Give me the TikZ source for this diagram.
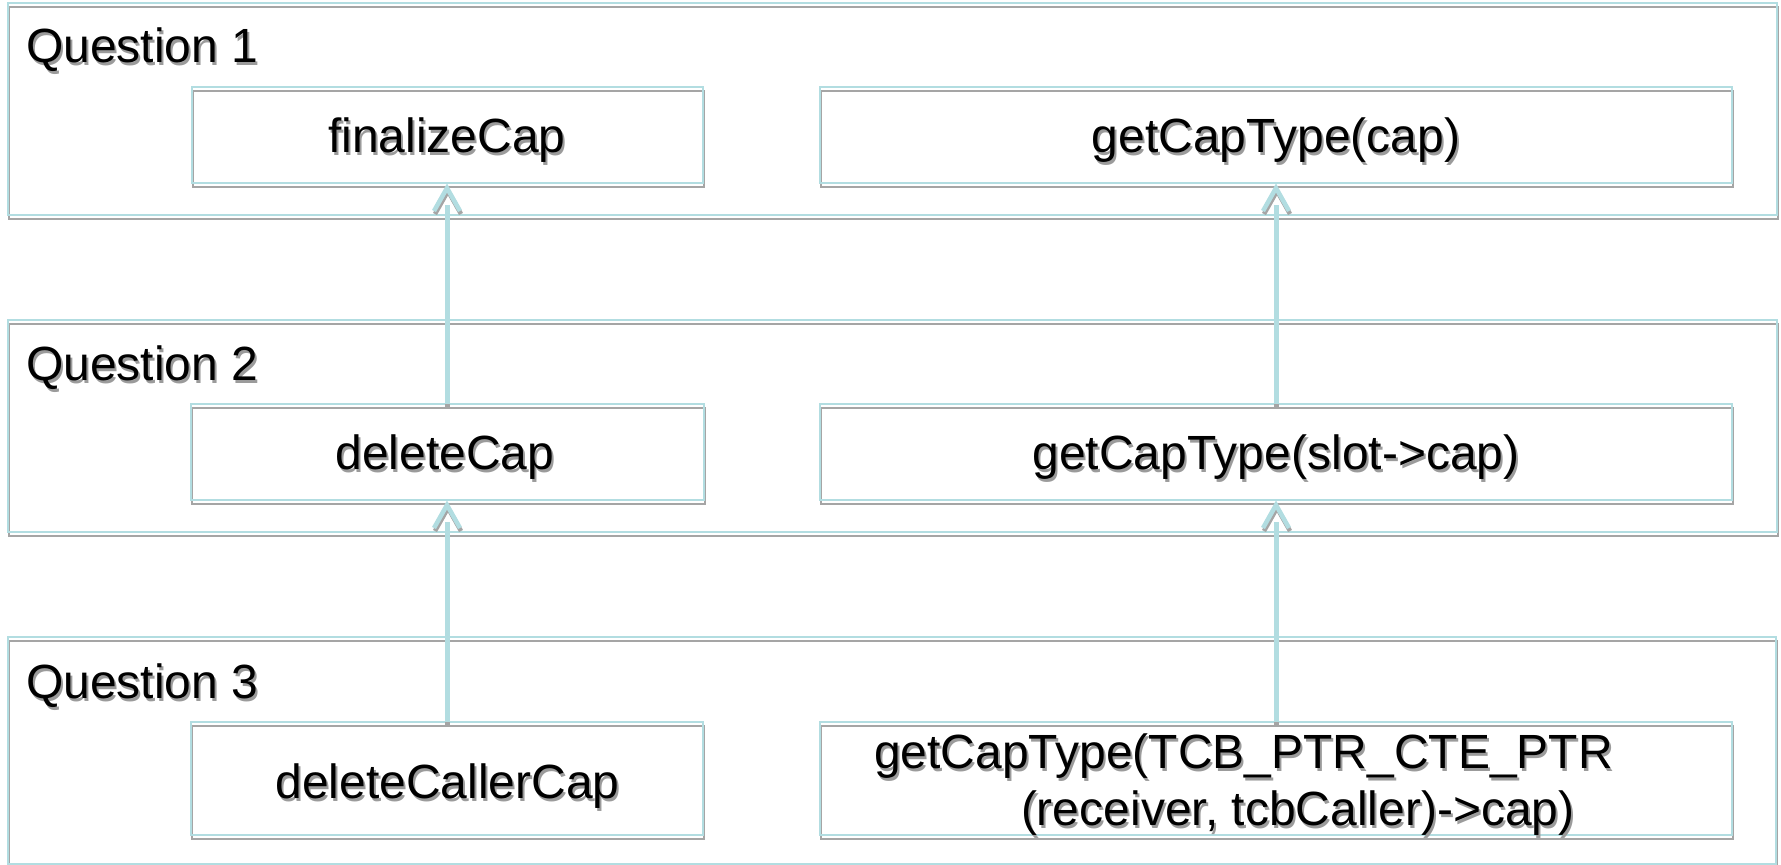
\documentclass[tikz,border=0pt]{standalone}
\usepackage{fontspec}
\setmainfont{Liberation Sans}
\definecolor{cy}{RGB}{178,221,225}
\definecolor{shd}{RGB}{165,165,165}
\definecolor{tshd}{RGB}{155,155,155}
\tikzset{
  boxline/.style={draw=cy, line width=2pt, inner sep=0pt, outer sep=0pt,
    preaction={draw=shd, line width=2pt, transform canvas={shift={(1pt,-4pt)}}}},
  txt/.style={inner sep=0pt, outer sep=0pt, text=black},
  txtsh/.style={inner sep=0pt, outer sep=0pt, text=tshd},
  shaft/.style={draw=cy, line width=5pt,
    preaction={draw=shd, line width=5pt, transform canvas={shift={(0pt,-4pt)}}}},
  chev/.style={draw=cy, line width=4.5pt, miter limit=10,
    preaction={draw=shd, line width=4.5pt, transform canvas={shift={(1pt,-3pt)}}}},
}
\newcommand\shtext[5]{%
  \node[txtsh, anchor=#3, font=\fontsize{#4}{#4}\selectfont] (#1s) at ([shift={(2pt,-3pt)}]#2) {#5};
  \node[txt, anchor=#3, font=\fontsize{#4}{#4}\selectfont] (#1) at (#2) {#5};}
\begin{document}
\begin{tikzpicture}[x=1pt,y=-1pt]
\useasboundingbox (0,0) rectangle (1781,865);
% frames
\node[boxline, minimum width=1769pt, minimum height=212pt] (f1) at (892.5,109) {};
\node[boxline, minimum width=1769pt, minimum height=212pt] (f2) at (892.5,426) {};
\node[boxline, minimum width=1768pt, minimum height=227pt] (f3) at (892,750.5) {};
% inner boxes
\node[boxline, minimum width=511pt, minimum height=96pt] (b11) at (447,135) {};
\node[boxline, minimum width=912pt, minimum height=96pt] (b12) at (1276,135) {};
\node[boxline, minimum width=513pt, minimum height=96pt] (b21) at (447,452) {};
\node[boxline, minimum width=912pt, minimum height=96pt] (b22) at (1276,452) {};
\node[boxline, minimum width=512pt, minimum height=113pt] (b31) at (447,778.5) {};
\node[boxline, minimum width=912pt, minimum height=113pt] (b32) at (1276,778.5) {};
% texts
\shtext{q1}{26,62}{base west}{48}{Question 1}
\shtext{q2}{26,380}{base west}{48}{Question 2}
\shtext{q3}{26,698}{base west}{48}{Question 3}
\shtext{t11}{447,152}{base}{48}{finalizeCap}
\shtext{t12}{1276,152}{base}{48}{getCapType(cap)}
\shtext{t21}{445,469}{base}{48}{deleteCap}
\shtext{t22}{1276,469}{base}{48}{getCapType(slot->cap)}
\shtext{t31}{447.5,798}{base}{48}{deleteCallerCap}
\shtext{t32a}{874,768}{base west}{48}{getCapType(TCB\_PTR\_CTE\_PTR}
\shtext{t32b}{1021,825}{base west}{48}{(receiver, tcbCaller)->cap)}
% connectors
\draw[shaft] (b21.north) -- ([yshift=-22pt]b11.south);
\draw[chev] ([shift={(-13pt,-28pt)}]b11.south) -- ([yshift=-5pt]b11.south) -- ([shift={(13pt,-28pt)}]b11.south);
\draw[shaft] (b31.north) -- ([yshift=-22pt]b21.south);
\draw[chev] ([shift={(-13pt,-28pt)}]b21.south) -- ([yshift=-5pt]b21.south) -- ([shift={(13pt,-28pt)}]b21.south);
\draw[shaft] (b22.north) -- ([yshift=-22pt]b12.south);
\draw[chev] ([shift={(-13pt,-28pt)}]b12.south) -- ([yshift=-5pt]b12.south) -- ([shift={(13pt,-28pt)}]b12.south);
\draw[shaft] (b32.north) -- ([yshift=-22pt]b22.south);
\draw[chev] ([shift={(-13pt,-28pt)}]b22.south) -- ([yshift=-5pt]b22.south) -- ([shift={(13pt,-28pt)}]b22.south);
\end{tikzpicture}
\end{document}
